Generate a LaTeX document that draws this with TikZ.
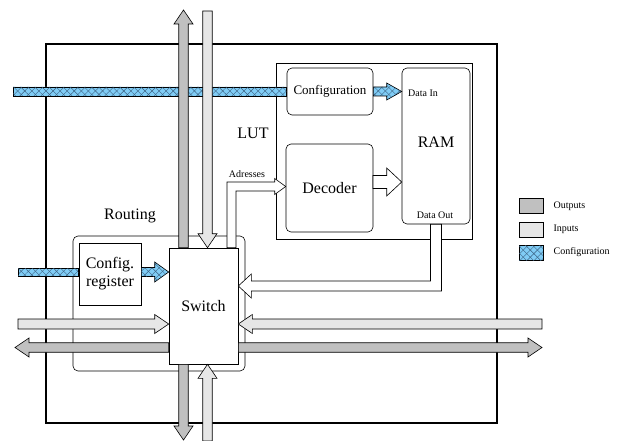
\documentclass[tikz,border=0pt]{standalone}
\usepackage{fontspec}
\setmainfont{Liberation Serif}
\usetikzlibrary{positioning, calc, patterns.meta}
\definecolor{outgray}{HTML}{C0C0C0}
\definecolor{ingray}{HTML}{E6E6E6}
\definecolor{cfgblue}{HTML}{80CCF5}
\definecolor{cfgline}{HTML}{3A6080}

% straight block arrow: [style]{from}{to}{half body}{half head}{head length}
\newcommand{\blockarrow}[6][]{%
  \draw[#1] let \p1=(#2), \p2=(#3), \n1={veclen(\x2-\x1,\y2-\y1)},
      \n2={(\x2-\x1)/\n1}, \n3={(\y2-\y1)/\n1} in
    ({\x1-\n3*#4},{\y1+\n2*#4})
    -- ({\x2-\n2*#6-\n3*#4},{\y2-\n3*#6+\n2*#4})
    -- ({\x2-\n2*#6-\n3*#5},{\y2-\n3*#6+\n2*#5})
    -- (\x2,\y2)
    -- ({\x2-\n2*#6+\n3*#5},{\y2-\n3*#6-\n2*#5})
    -- ({\x2-\n2*#6+\n3*#4},{\y2-\n3*#6-\n2*#4})
    -- ({\x1+\n3*#4},{\y1-\n2*#4}) -- cycle;}

\begin{document}
\begin{tikzpicture}[x=1pt, y=-1pt, line width=0.6pt]

\tikzstyle{block} = [rectangle, draw, fill=white, inner sep=0pt]
\tikzstyle{rblock} = [block, rounded corners=5pt]
\tikzstyle{big} = [font=\fontsize{16}{18}\selectfont]
\tikzstyle{note} = [font=\fontsize{10}{11}\selectfont, inner sep=1pt]
\tikzstyle{outarrow} = [draw, fill=outgray]
\tikzstyle{inarrow} = [draw, fill=ingray]
\tikzstyle{openarrow} = [draw, fill=white]
\tikzstyle{hatch} = [draw, preaction={fill=cfgblue},
  pattern={Lines[angle=45, distance=5pt, line width=0.4pt]}, pattern color=cfgline,
  postaction={pattern={Lines[angle=-45, distance=5pt, line width=0.4pt]}, pattern color=cfgline}]

\useasboundingbox (0,0) rectangle (619,441);

% Chip
\node[block, line width=1.4pt, minimum width=451pt, minimum height=379pt] (chip) at (271.5,233.5) {};

% LUT
\node[block, minimum width=196pt, minimum height=176pt] (lut) at (374,151) {};
\node[big] (luttxt) at (253,133) {LUT};
\node[rblock, font=\fontsize{13}{14}\selectfont, minimum width=86pt, minimum height=47pt] (cfg) at (330,91.5) {Configuration};
\node[rblock, minimum width=68pt, minimum height=156pt] (ram) at (436,146) {};
\node[big] (ramtxt) at (436,142) {RAM};
\node[note] (datain) at (423,93) {Data In};
\node[note] (dataout) at (435,215) {Data Out};
\node[rblock, big, minimum width=87pt, minimum height=88pt] (decoder) at (329.5,188) {Decoder};

% Routing
\node[rblock, minimum width=172pt, minimum height=135pt] (routing) at (159,303.5) {};
\node[big] (routtxt) at (130,216) {Routing};
\node[block, big, align=center, minimum width=62pt, minimum height=62pt] (cfgreg) at (110,274) {Config.\\register};
\node[block, big, minimum width=69pt, minimum height=116pt] (switch) at (203.5,306) {Switch};

% free ends
\coordinate (cfgsrc) at (13,91.5);
\coordinate (regsrc) at (18,272);
\coordinate (outtop) at (183.5,10);
\coordinate (outbot) at (183.5,440);
\coordinate (intop) at (207.5,11);
\coordinate (inbot) at (207.5,441);
\coordinate (inleft) at (18,324);
\coordinate (outleft) at (15,347.5);
\coordinate (inright) at (542,324);
\coordinate (outright) at (542,347.5);
\coordinate (dec2ram) at (373,182);
\coordinate (addr) at (231.5,186.5);
\coordinate (dout) at (436,286);

% Configuration
\blockarrow[hatch]{cfgsrc}{cfg.west |- cfgsrc}{4.5pt}{4.5pt}{0pt}
\blockarrow[hatch]{regsrc}{cfgreg.west |- regsrc}{4pt}{4pt}{0pt}
\blockarrow[hatch]{cfg.east}{ram.west |- cfg.east}{4.5pt}{8.5pt}{15pt}
\blockarrow[hatch]{cfgreg.east |- regsrc}{switch.west |- regsrc}{4.5pt}{10pt}{14pt}

% Outputs and inputs
\blockarrow[outarrow]{switch.north -| outtop}{outtop}{4.75pt}{9.5pt}{14pt}
\blockarrow[outarrow]{switch.south -| outbot}{outbot}{4.75pt}{9.5pt}{14pt}
\blockarrow[inarrow]{intop}{switch.north -| intop}{4.75pt}{9.5pt}{14pt}
\blockarrow[inarrow]{inbot}{switch.south -| inbot}{4.75pt}{9.5pt}{14pt}
\blockarrow[inarrow]{inleft}{switch.west |- inleft}{5pt}{9.5pt}{14pt}
\blockarrow[outarrow]{switch.west |- outleft}{outleft}{4.75pt}{9.5pt}{14pt}
\blockarrow[inarrow]{inright}{switch.east |- inright}{5pt}{9.5pt}{14pt}
\blockarrow[outarrow]{switch.east |- outright}{outright}{4.75pt}{9.5pt}{14pt}

% Decoder -> RAM
\blockarrow[openarrow]{dec2ram}{ram.west |- dec2ram}{6.5pt}{14pt}{15pt}

% Adresses
\draw[openarrow] let \p1=(switch.north -| addr), \p2=(decoder.west |- addr) in
  ({\x1-4.5pt},\y1) |- ({\x2-11pt},{\y2+4.5pt}) -- ({\x2-11pt},{\y2+8pt}) -- (\x2,\y2)
  -- ({\x2-11pt},{\y2-8pt}) -- ({\x2-11pt},{\y2-4.5pt}) -| ({\x1+4.5pt},\y1) -- cycle;
\node[note] (addrtxt) at (247,174) {Adresses};

% Data Out
\draw[openarrow] let \p1=(ram.south -| dout), \p2=(switch.east |- dout) in
  ({\x1-5.5pt},\y1) |- ({\x2+13pt},{\y2+5pt}) -- ({\x2+13pt},{\y2+12pt}) -- (\x2,\y2)
  -- ({\x2+13pt},{\y2-12pt}) -- ({\x2+13pt},{\y2-5pt}) -| ({\x1+5.5pt},\y1) -- cycle;

% Legend
\node[block, fill=outgray, minimum width=24pt, minimum height=15pt] (legout) at (531,206) {};
\node[note, right=9pt of legout] (legouttxt) {Outputs};
\node[block, fill=ingray, minimum width=24pt, minimum height=15pt] (legin) at (531,229.5) {};
\node[note, right=9pt of legin] (legintxt) {Inputs};
\node[rectangle, hatch, inner sep=0pt, minimum width=24pt, minimum height=15pt] (legcfg) at (531,252.5) {};
\node[note, right=9pt of legcfg] (legcfgtxt) {Configuration};

\end{tikzpicture}
\end{document}
